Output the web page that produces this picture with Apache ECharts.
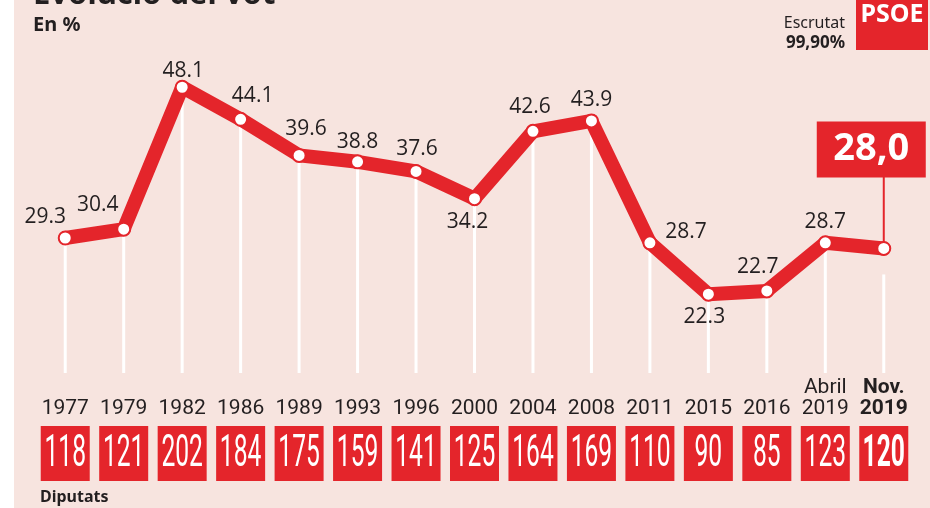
<!DOCTYPE html>
<html>
<head>
<meta charset="utf-8">
<style>
  html, body { margin: 0; padding: 0; background: #fff; }
  #chart { width: 930px; height: 508px; }
</style>
<script src="https://cdn.jsdelivr.net/npm/echarts@6/dist/echarts.min.js"></script>
</head>
<body>
<div id="chart"></div>
<script>
var years = ['1977', '1979', '1982', '1986', '1989', '1993', '1996', '2000', '2004', '2008', '2011', '2015', '2016', 'Abril\n2019', 'Nov.\n2019'];
var votes = [29.3, 30.4, 48.1, 44.1, 39.6, 38.8, 37.6, 34.2, 42.6, 43.9, 28.7, 22.3, 22.7, 28.7, 28.0];
var seats = [118, 121, 202, 184, 175, 159, 141, 125, 164, 169, 110, 90, 85, 123, 120];

var RED = '#e4252b';
var BG = '#f7e4df';
var INK = '#231f20';

// where each value label sits relative to its point
var labelOffsets = [
  [-20, -21], [-26, -24], [1, -16], [12, -23], [7, -26], [0, -20], [1, -22],
  [-7, 23], [-3, -24], [0, -21], [36, -11], [-4, 23], [-9, -24], [0, -21], null
];

var last = votes.length - 1;

var lineData = votes.map(function (v, i) {
  var off = labelOffsets[i];
  return {
    value: v,
    label: off ? { show: true, position: 'inside', offset: off } : { show: false }
  };
});

var idxData = votes.map(function (v, i) { return [i, v]; });

var chart = echarts.init(document.getElementById('chart'));

var option = {
  backgroundColor: BG,
  animation: false,
  grid: { left: 36, right: 17, top: 72, bottom: 35 },
  xAxis: {
    type: 'category',
    data: years,
    boundaryGap: true,
    axisLine: { show: false },
    axisTick: { show: false },
    axisLabel: { show: false },
    splitLine: { show: false }
  },
  yAxis: {
    type: 'value',
    min: 0,
    max: 50,
    show: false
  },
  graphic: [
    { type: 'rect', left: 0, top: 0, shape: { width: 14, height: 508 }, style: { fill: '#fff' } },
    { type: 'text', x: 33, y: 11, style: { text: 'Evolució del vot', fill: INK, font: 'bold 31px "Noto Sans"', verticalAlign: 'bottom' } },
    { type: 'text', x: 33, y: 25, style: { text: 'En %', fill: INK, font: 'bold 20px "Noto Sans"', verticalAlign: 'middle' } },
    { type: 'text', x: 845, y: 23, style: { text: 'Escrutat', fill: INK, font: '16px "Noto Sans"', align: 'right', verticalAlign: 'middle' } },
    { type: 'text', x: 845, y: 43, style: { text: '99,90%', fill: INK, font: 'bold 17px "Noto Sans"', align: 'right', verticalAlign: 'middle' } },
    { type: 'rect', x: 856, y: 0, shape: { width: 72, height: 50 }, style: { fill: RED } },
    { type: 'text', x: 892, y: 15, style: { text: 'PSOE', fill: '#fff', font: 'bold 25px "Noto Sans"', align: 'center', verticalAlign: 'middle' } },
    { type: 'text', x: 40, y: 497, style: { text: 'Diputats', fill: INK, font: 'bold 16px "Noto Sans"', verticalAlign: 'middle' } }
  ],
  series: [
    {
      // white drop lines and the callout for the latest result
      type: 'custom',
      z: 1,
      data: idxData,
      encode: { x: 0, y: 1 },
      renderItem: function (params, api) {
        var i = api.value(0);
        var pt = api.coord([i, api.value(1)]);
        var base = api.coord([i, 0]);
        var children = [];
        var top = i === last ? pt[1] + 26 : pt[1];
        children.push({
          type: 'line',
          shape: { x1: pt[0], y1: top, x2: pt[0], y2: base[1] - 100 },
          style: { stroke: '#fff', lineWidth: 3 }
        });
        if (i === last) {
          children.push({
            type: 'line',
            shape: { x1: pt[0], y1: pt[1], x2: pt[0], y2: pt[1] - 72 },
            style: { stroke: RED, lineWidth: 2 }
          });
          children.push({
            type: 'rect',
            shape: { x: pt[0] - 67, y: pt[1] - 127, width: 109, height: 56 },
            style: { fill: RED }
          });
          children.push({
            type: 'text',
            x: pt[0] - 12.5, y: pt[1] - 99,
            style: {
              text: api.value(1).toFixed(1).replace('.', ','),
              fill: '#fff', font: 'bold 38px "Noto Sans"',
              align: 'center', verticalAlign: 'middle'
            }
          });
        }
        return { type: 'group', children: children };
      }
    },
    {
      // years and seats under each point
      type: 'custom',
      z: 1,
      data: idxData,
      encode: { x: 0, y: 1 },
      renderItem: function (params, api) {
        var i = api.value(0);
        var base = api.coord([i, 0]);
        var x = base[0];
        var bold = i === last;
        var parts = years[i].split('\n');
        var children = [];
        var yy = base[1] - 64;
        for (var k = parts.length - 1; k >= 0; k--) {
          children.push({
            type: 'text', x: x, y: yy,
            style: {
              text: parts[k], fill: INK,
              font: (bold ? 'bold ' : '') + '21px Roboto',
              align: 'center', verticalAlign: 'middle'
            }
          });
          yy -= 21;
        }
        children.push({
          type: 'rect',
          shape: { x: x - 24.5, y: base[1] - 47, width: 49, height: 55 },
          style: { fill: RED }
        });
        children.push({
          type: 'text', x: x, y: base[1] - 18, scaleX: 0.56,
          style: {
            text: String(seats[i]), fill: '#fff',
            font: (bold ? 'bold ' : '') + '44px Roboto',
            align: 'center', verticalAlign: 'middle'
          }
        });
        return { type: 'group', children: children };
      }
    },
    {
      type: 'line',
      z: 3,
      data: lineData,
      symbol: 'circle',
      symbolSize: 13,
      lineStyle: { color: RED, width: 14, cap: 'round', join: 'round' },
      itemStyle: { color: '#fff', borderColor: RED, borderWidth: 2 },
      label: {
        color: INK,
        fontSize: 21,
        fontFamily: 'Open Sans',
        align: 'center',
        verticalAlign: 'middle'
      },
      emphasis: { disabled: true }
    }
  ]
};

chart.setOption(option);
</script>
</body>
</html>
